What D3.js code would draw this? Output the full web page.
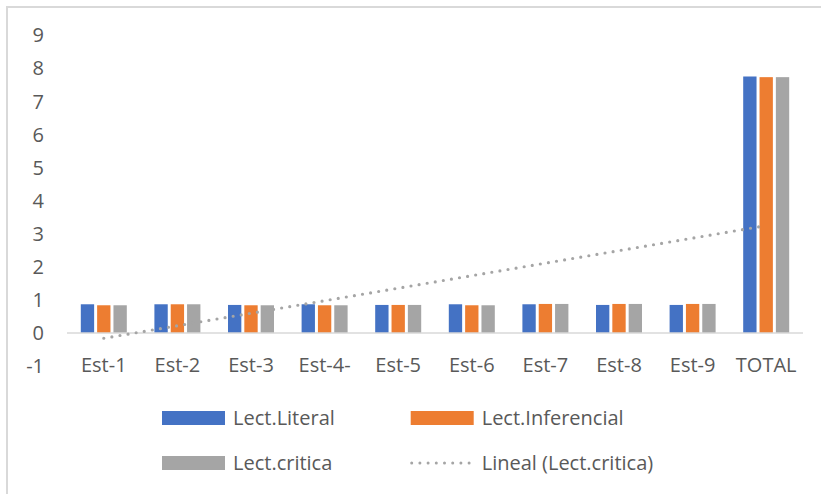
<!DOCTYPE html>
<html>
<head>
<meta charset="utf-8">
<script src="https://cdn.jsdelivr.net/npm/d3@7"></script>
<style>
  html, body { margin: 0; padding: 0; background: #fff; }
  svg { display: block; }
  text { font-family: "Open Sans", sans-serif; fill: #595959; }
</style>
</head>
<body>
<svg id="chart" width="821" height="494"></svg>
<script>
const categories = ["Est-1","Est-2","Est-3","Est-4-","Est-5","Est-6","Est-7","Est-8","Est-9","TOTAL"];
const seriesNames = ["Lect.Literal","Lect.Inferencial","Lect.critica"];
const literal     = [0.87,0.87,0.85,0.87,0.85,0.87,0.87,0.85,0.85,7.76];
const inferencial = [0.84,0.87,0.84,0.84,0.85,0.84,0.88,0.88,0.88,7.74];
const critica     = [0.84,0.87,0.84,0.84,0.85,0.84,0.88,0.88,0.88,7.74];
const yTicks = [-1,0,1,2,3,4,5,6,7,8,9];
const colors = ["#4472C4","#ED7D31","#A5A5A5"];
const trendName = "Lineal (Lect.critica)";

const seriesValues = [literal, inferencial, critica];
const svg = d3.select("#chart");

// outer chart border (top and left visible)
svg.append("line").attr("x1",7).attr("x2",821).attr("y1",7).attr("y2",7)
  .attr("stroke","#D9D9D9").attr("stroke-width",2);
svg.append("line").attr("x1",7).attr("x2",7).attr("y1",6).attr("y2",494)
  .attr("stroke","#D9D9D9").attr("stroke-width",2);

const x = d3.scaleBand().domain(categories).range([67, 803]).padding(0);
const y = d3.scaleLinear().domain([-1, 9]).range([366.1, 35.5]);
const groupW = 49;
const xs = d3.scaleBand().domain(seriesNames).range([0, groupW]).padding(0);
const inset = 1.5;

// y axis labels
const yAxis = d3.axisLeft(y).tickValues(yTicks).tickSize(0).tickPadding(0).tickFormat(d => String(d));
const gy = svg.append("g").attr("transform","translate(44,0)").call(yAxis);
gy.select(".domain").remove();
gy.selectAll("text").attr("font-size",20).attr("fill","#595959")
  .style("font-family","'Open Sans', sans-serif");

// bars
seriesNames.forEach((name, si) => {
  svg.append("g").selectAll("rect").data(seriesValues[si]).join("rect")
    .attr("x",(d,i)=> x(categories[i]) + x.bandwidth()/2 - groupW/2 + xs(name) + inset)
    .attr("width", xs.bandwidth() - 2*inset)
    .attr("y", d => y(Math.max(0,d)))
    .attr("height", d => Math.abs(y(d) - y(0)))
    .attr("fill", colors[si]);
});

// zero axis line
svg.append("line").attr("x1",67).attr("x2",803).attr("y1",y(0)).attr("y2",y(0))
  .attr("stroke","#D9D9D9").attr("stroke-width",1.5);

// x axis labels
const xAxis = d3.axisBottom(x).tickSize(0).tickPadding(0);
const gx = svg.append("g").attr("transform","translate(0,358)").call(xAxis);
gx.select(".domain").remove();
gx.selectAll("text").attr("font-size",20).attr("fill","#595959").attr("dy","0.71em")
  .style("font-family","'Open Sans', sans-serif");

// linear trendline for Lect.critica (least squares on category index)
const n = critica.length;
const idx = d3.range(1, n+1);
const mx = d3.mean(idx), my = d3.mean(critica);
const slope = d3.sum(idx.map((v,i)=>(v-mx)*(critica[i]-my))) / d3.sum(idx.map(v=>(v-mx)*(v-mx)));
const intercept = my - slope*mx;
const cx = i => x(categories[i]) + x.bandwidth()/2;
svg.append("line")
  .attr("x1", cx(0)).attr("y1", y(intercept + slope*1))
  .attr("x2", cx(n-1)).attr("y2", y(intercept + slope*n))
  .attr("stroke","#A5A5A5").attr("stroke-width",3.2)
  .attr("stroke-linecap","round").attr("stroke-dasharray","0 8.2");

// legend
const legend = [
  {name: seriesNames[0], type:"rect", color: colors[0], x:162, y:418},
  {name: seriesNames[1], type:"rect", color: colors[1], x:410.7, y:418},
  {name: seriesNames[2], type:"rect", color: colors[2], x:162, y:463},
  {name: trendName, type:"line", color: colors[2], x:410.7, y:463}
];
const lg = svg.append("g").selectAll("g").data(legend).join("g")
  .attr("transform", d => `translate(${d.x},${d.y})`);
lg.filter(d=>d.type==="rect").append("rect")
  .attr("x",0).attr("y",-7).attr("width",63).attr("height",14).attr("fill",d=>d.color);
lg.filter(d=>d.type==="line").append("line")
  .attr("x1",1).attr("x2",63).attr("y1",0).attr("y2",0)
  .attr("stroke",d=>d.color).attr("stroke-width",3)
  .attr("stroke-linecap","round").attr("stroke-dasharray","0 8.2");
lg.append("text").attr("x",71).attr("y",0).attr("dy","0.36em")
  .attr("font-size",20).text(d=>d.name);
</script>
</body>
</html>
